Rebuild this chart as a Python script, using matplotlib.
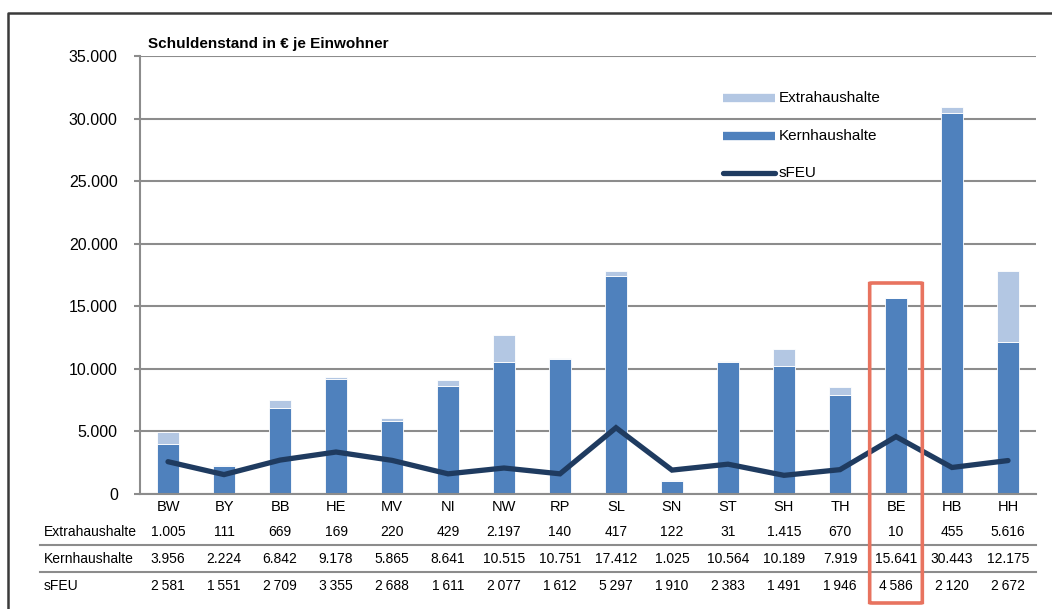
import matplotlib.pyplot as plt
import matplotlib.patches as mpatches
import matplotlib.transforms as mtransforms
import numpy as np

plt.rcParams['font.family'] = ['Liberation Sans', 'DejaVu Sans']

# data
laender = ['BW', 'BY', 'BB', 'HE', 'MV', 'NI', 'NW', 'RP', 'SL', 'SN', 'ST', 'SH', 'TH', 'BE', 'HB', 'HH']
extra = [1005, 111, 669, 169, 220, 429, 2197, 140, 417, 122, 31, 1415, 670, 10, 455, 5616]
kern = [3956, 2224, 6842, 9178, 5865, 8641, 10515, 10751, 17412, 1025, 10564, 10189, 7919, 15641, 30443, 12175]
sfeu = [2581, 1551, 2709, 3355, 2688, 1611, 2077, 1612, 5297, 1910, 2383, 1491, 1946, 4586, 2120, 2672]
yticks = [0, 5000, 10000, 15000, 20000, 25000, 30000, 35000]

c_kern = '#4F81BD'
c_extra = '#B3C7E3'
c_line = '#1F3B60'
c_grid = '#8C8C8C'
c_red = '#E8735F'

W, H = 1052, 609
fig = plt.figure(figsize=(W / 100, H / 100), dpi=100)

def fx(px):
    return px / W

def fy(py):
    return 1 - py / H

ax = fig.add_axes([fx(140), fy(494), 896 / W, 438 / H])
x = np.arange(len(laender))

ax.bar(x, kern, width=0.4, color=c_kern, edgecolor='white', linewidth=0.6, zorder=2)
ax.bar(x, extra, width=0.4, bottom=kern, color=c_extra, edgecolor='white', linewidth=0.6, zorder=2)
ax.plot(x, sfeu, color=c_line, lw=3.8, solid_capstyle='round', solid_joinstyle='miter', zorder=3)

ax.set_xlim(-0.5, len(laender) - 0.5)
ax.set_ylim(0, 35000)
ax.set_yticks(yticks)
ax.set_yticklabels([f'{v:,}'.replace(',', '.') for v in yticks], fontsize=11.5)
ax.yaxis.grid(True, color=c_grid, lw=1.5, zorder=0)
ax.set_axisbelow(True)
ax.tick_params(axis='y', length=4, width=1.5, color=c_grid, pad=12)
ax.set_xticks(x)
ax.set_xticklabels(laender, fontsize=10.5)
ax.tick_params(axis='x', length=0, pad=4)
for s in ['top', 'right']:
    ax.spines[s].set_visible(False)
ax.spines['left'].set_color(c_grid)
ax.spines['left'].set_linewidth(1.5)
ax.spines['bottom'].set_color(c_grid)
ax.spines['bottom'].set_linewidth(1.5)

fig.text(fx(148), fy(44), 'Schuldenstand in € je Einwohner', fontsize=11, fontweight='bold', va='center')

# legend
def ax_xy(px, py):
    return (px - 140) / 896, (494 - py) / 438

for py, col, lab, cap in [(98, c_extra, 'Extrahaushalte', 'butt'),
                          (136, c_kern, 'Kernhaushalte', 'butt'),
                          (173, c_line, 'sFEU', 'round')]:
    x0, yy = ax_xy(723, py)
    x1, _ = ax_xy(775, py)
    ax.plot([x0, x1], [yy, yy], transform=ax.transAxes, color=col,
            lw=6 if cap == 'butt' else 3.8, solid_capstyle=cap, clip_on=False, zorder=4)
    tx, _ = ax_xy(779, py)
    ax.text(tx, yy, lab, transform=ax.transAxes, fontsize=11, va='center', ha='left')

# table below
trans = mtransforms.blended_transform_factory(ax.transData, fig.transFigure)
rows = [('Extrahaushalte', extra, 532, lambda v: f'{v:,}'.replace(',', '.')),
        ('Kernhaushalte', kern, 559, lambda v: f'{v:,}'.replace(',', '.')),
        ('sFEU', sfeu, 586, lambda v: f'{v:,}'.replace(',', '\u2009'))]
for name, vals, py, fmt in rows:
    fig.text(fx(44), fy(py), name, fontsize=10, va='center', ha='left')
    for i, v in enumerate(vals):
        ax.text(i, fy(py), fmt(v), transform=trans, fontsize=10, va='center', ha='center')

for py in [545, 572]:
    fig.add_artist(plt.Line2D([fx(40), fx(1036)], [fy(py), fy(py)], color=c_grid, lw=1.5))

# outer frame
fig.add_artist(plt.Line2D([fx(8), fx(8), 1], [0, fy(13), fy(13)], color='#3A3A3A', lw=1.8))

# highlight Berlin
ib = laender.index('BE')
rect = mpatches.FancyBboxPatch((ib - 0.5 + 0.03, fy(603)), 0.94, fy(283) - fy(603),
                               boxstyle='round,pad=0,rounding_size=0.05',
                               transform=trans, fill=False, edgecolor=c_red, lw=2.6,
                               clip_on=False, zorder=5, mutation_aspect=0.01)
fig.add_artist(rect)

fig.savefig('out.png', dpi=100)
